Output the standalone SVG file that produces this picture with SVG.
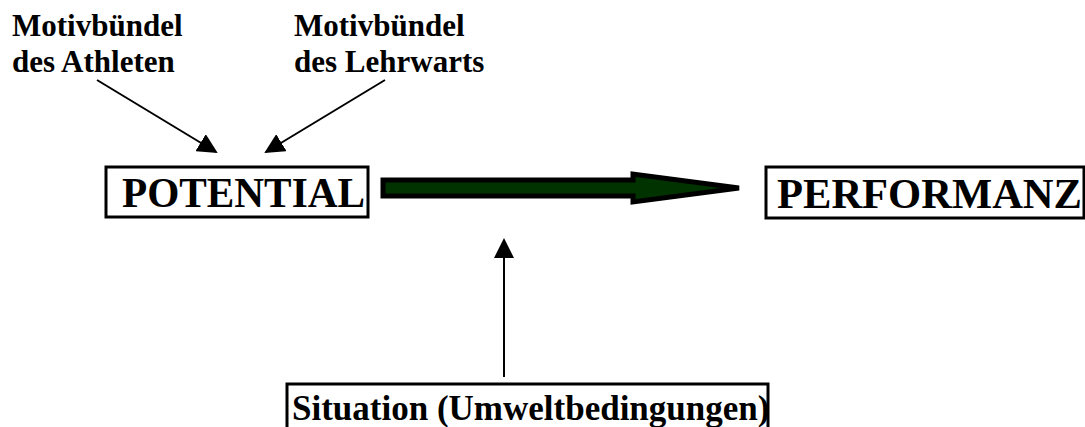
<svg xmlns="http://www.w3.org/2000/svg" width="1085" height="427" viewBox="0 0 1085 427">
<style>
.t{font-family:"Liberation Serif","Times New Roman",serif;font-weight:bold;fill:#000}
.lbl{font-size:31px}
.big{font-size:42px}
.sit{font-size:35px}
.box{fill:#fff;stroke:#000;stroke-width:3}
.ln{stroke:#000;stroke-width:2;fill:none}
</style>
<defs>
<marker id="ahb" viewBox="0 0 10 10" refX="9" refY="5" markerWidth="20" markerHeight="20" markerUnits="userSpaceOnUse" orient="auto">
<path d="M0,0 L10,5 L0,10 Z" fill="#000"/>
</marker>
</defs>
<rect width="1085" height="427" fill="#fff"/>
<g id="motiv-athlet">
<text class="t lbl" x="12" y="36">Motivbündel</text>
<text class="t lbl" x="12" y="72">des Athleten</text>
</g>
<g id="motiv-lehrwart">
<text class="t lbl" x="294" y="36">Motivbündel</text>
<text class="t lbl" x="294" y="72">des Lehrwarts</text>
</g>
<g id="potential">
<rect class="box" x="106" y="167" width="262" height="50"/>
<text class="t big" x="122" y="207" textLength="243" lengthAdjust="spacingAndGlyphs">POTENTIAL</text>
</g>
<g id="performanz">
<rect class="box" x="766" y="167" width="318" height="51"/>
<text class="t big" x="777" y="208" textLength="305" lengthAdjust="spacingAndGlyphs">PERFORMANZ</text>
</g>
<g id="situation">
<rect class="box" x="287" y="384" width="481" height="60"/>
<text class="t sit" x="292" y="420">Situation (Umweltbedingungen)</text>
</g>
<g id="connectors">
<line class="ln" x1="97" y1="80" x2="216" y2="152" marker-end="url(#ahb)"/>
<line class="ln" x1="385" y1="80" x2="266" y2="152" marker-end="url(#ahb)"/>
<line class="ln" x1="504" y1="377" x2="504" y2="240" marker-end="url(#ahb)"/>
<polygon points="383,180 633,180 633,174 739,188 633,202 633,196 383,196" fill="#003300" stroke="#000" stroke-width="5" stroke-linejoin="miter"/>
</g>
</svg>
